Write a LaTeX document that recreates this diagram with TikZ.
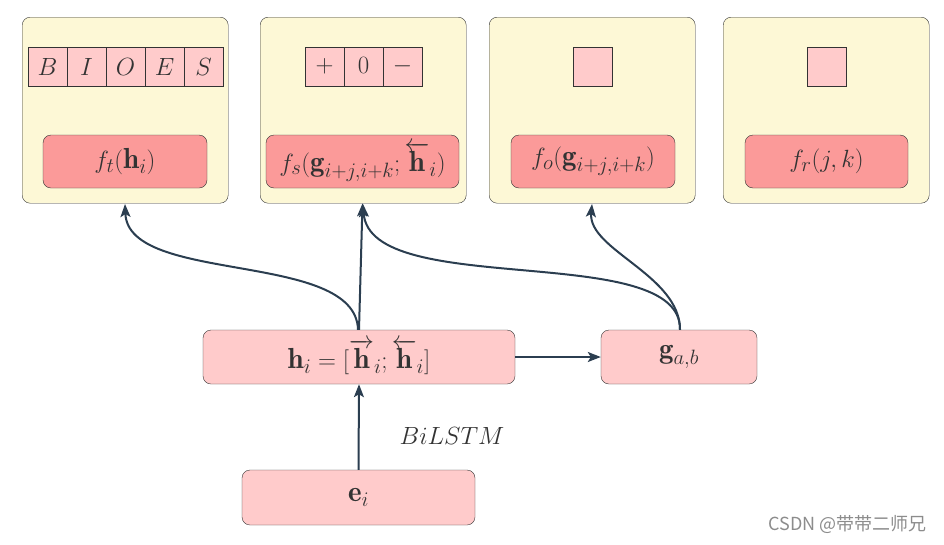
\documentclass[tikz,border=0pt]{standalone}
\usepackage{fontspec}
\usepackage{amsmath}
\usetikzlibrary{arrows.meta}
\newfontfamily\cjk{Noto Sans CJK SC}
\definecolor{ybox}{HTML}{FDF8D6}
\definecolor{pill}{HTML}{FB9A99}
\definecolor{pink}{HTML}{FFCBCB}
\definecolor{arr}{HTML}{2B3E50}
\definecolor{txt}{HTML}{333333}
\newcommand{\bigtxt}{\fontsize{29}{34}\selectfont}
\begin{document}
\begin{tikzpicture}[x=1pt,y=-1pt,
 panel/.style={draw=black!80,fill=ybox,rounded corners=8pt,minimum width=206pt,minimum height=186pt,anchor=north west,inner sep=0},
 fn/.style={draw=black!80,fill=pill,rounded corners=8pt,minimum height=53pt,text=txt,font=\bigtxt,inner sep=0},
 box/.style={draw=black!80,fill=pink,rounded corners=8pt,minimum height=54pt,text=txt,font=\bigtxt,inner sep=0},
 cell/.style={draw=black!80,fill=pink,minimum width=39pt,minimum height=39pt,text=txt,font=\bigtxt,inner sep=0},
 con/.style={draw=arr,line width=2pt,-{Stealth[length=13pt,width=10pt,inset=3pt]}}]
\useasboundingbox (0,0) rectangle (944,544);
\node[panel] (p1) at (22,17) {};
\node[panel] (p2) at (260,17) {};
\node[panel] (p3) at (489,17) {};
\node[panel] (p4) at (723,17) {};
% cells
\foreach \l [count=\i] in {B,I,O,E,S} \node[cell] (c\i) at ({28+19.5+39*(\i-1)},66.5) {$\l$};
\foreach \l [count=\i] in {+,0,-} \node[cell] (d\i) at ({305+19.5+39*(\i-1)},66.5) {$\l\vphantom{+}$};
\node[cell] (e3) at (592.5,66.5) {};
\node[cell] (e4) at (826.5,66.5) {};
% functions
\node[fn,minimum width=164pt] (f1) at (125,161.5) {$f_t(\mathbf{h}_i)$};
\node[fn,minimum width=193pt] (f2) at (362.5,161.5) {$f_s(\mathbf{g}_{i+j,i+k};\overleftarrow{\mathbf{h}}_i)$};
\node[fn,minimum width=164pt] (f3) at (593,161.5) {$f_o(\mathbf{g}_{i+j,i+k})$};
\node[fn,minimum width=163pt] (f4) at (826.5,161.5) {$f_r(j,k)$};
% lower
\node[box,minimum width=312pt] (h) at (359,357) {$\mathbf{h}_i=[\overrightarrow{\mathbf{h}}_i;\overleftarrow{\mathbf{h}}_i]$};
\node[box,minimum width=156pt] (g) at (679,357) {$\mathbf{g}_{a,b}$};
\node[box,minimum width=233pt,minimum height=55pt] (e) at (358.5,497.5) {$\mathbf{e}_i$};
\node[text=txt,font=\bigtxt] (bl) at (452,436) {$BiLSTM$};
\node[text=black!45,font=\cjk\fontsize{18}{22}\selectfont,anchor=east] (wm) at (930,524) {CSDN @带带二师兄};
% connectors
\draw[con] (e.north) -- (h.south);
\draw[con] (h.east) -- (g.west);
\draw[con] (h.north) -- (f2.south |- p2.south);
\draw[con] ([xshift=-1pt]h.north) .. controls (356,250) and (128,285) .. (125,204);
\draw[con] ([xshift=1pt]g.north) .. controls (682,240) and (370,300) .. (363,204);
\draw[con] ([xshift=1pt]g.north) .. controls (680,275) and (588,250) .. (592,204);
\end{tikzpicture}
\end{document}
